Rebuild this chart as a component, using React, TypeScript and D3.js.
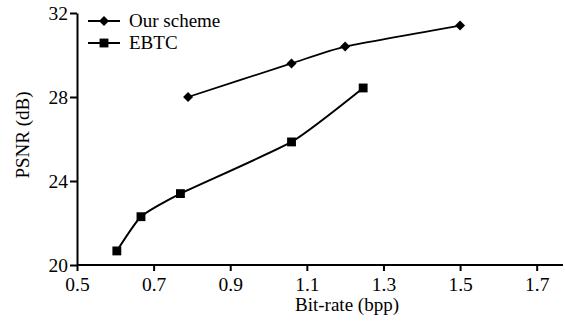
import { useEffect, useRef } from "react";
import * as d3 from "d3";

// values
const oursRate = [0.79, 1.06, 1.2, 1.5];
const oursPsnr = [28.0, 29.6, 30.4, 31.4];
const ebtcRate = [0.604, 0.667, 0.77, 1.06, 1.247];
const ebtcPsnr = [20.67, 22.3, 23.4, 25.86, 28.43];
const xTicks = [0.5, 0.7, 0.9, 1.1, 1.3, 1.5, 1.7];
const yTicks = [20, 24, 28, 32];
const seriesNames = ["Our scheme", "EBTC"];

const W = 565;
const H = 325;
const FONT = "'Liberation Serif', 'Times New Roman', serif";

const App = () => {
  const ref = useRef<SVGSVGElement>(null);

  useEffect(() => {
    if (!ref.current) return;
    const svg = d3.select(ref.current);
    svg.selectAll("*").remove();

    const x = d3.scaleLinear().domain([0.5, 1.8]).range([77, 575]);
    const y = d3.scaleLinear().domain([20, 32]).range([265, 13]);

    // axes
    const xAxis = svg
      .append("g")
      .attr("transform", `translate(0,${y(20)})`)
      .call(
        d3
          .axisBottom(x)
          .tickValues(xTicks)
          .tickSize(6)
          .tickSizeOuter(0)
          .tickFormat(d3.format(".1f"))
      );
    xAxis.select(".domain").attr("d", `M${x(0.5)},0H${W - 2}`);

    const yAxis = svg
      .append("g")
      .attr("transform", `translate(${x(0.5)},0)`)
      .call(d3.axisLeft(y).tickValues(yTicks).tickSize(7).tickSizeOuter(0));

    [xAxis, yAxis].forEach((a) => {
      a.select(".domain").attr("stroke", "#000").attr("stroke-width", 2);
      a.selectAll(".tick line").attr("stroke", "#000").attr("stroke-width", 2);
      a.selectAll("text")
        .attr("fill", "#000")
        .style("font-family", FONT)
        .style("font-size", "19.5px");
    });
    xAxis.selectAll("text").attr("dy", "0.85em");
    yAxis.selectAll("text").attr("x", -9).attr("dy", "0.35em");

    // axis titles
    svg
      .append("text")
      .attr("x", 347)
      .attr("y", 311)
      .attr("text-anchor", "middle")
      .style("font-family", FONT)
      .style("font-size", "19px")
      .text("Bit-rate (bpp)");
    svg
      .append("text")
      .attr("transform", `translate(29,135) rotate(-90)`)
      .attr("text-anchor", "middle")
      .style("font-family", FONT)
      .style("font-size", "19px")
      .text("PSNR (dB)");

    const line = d3
      .line<[number, number]>()
      .x((d) => x(d[0]))
      .y((d) => y(d[1]))
      .curve(d3.curveCardinal.tension(0.5));

    const ours = oursRate.map((r, i) => [r, oursPsnr[i]] as [number, number]);
    const ebtc = ebtcRate.map((r, i) => [r, ebtcPsnr[i]] as [number, number]);

    svg
      .append("path")
      .attr("d", line(ours))
      .attr("fill", "none")
      .attr("stroke", "#000")
      .attr("stroke-width", 1.8);
    svg
      .append("path")
      .attr("d", line(ebtc))
      .attr("fill", "none")
      .attr("stroke", "#000")
      .attr("stroke-width", 2);

    const diamond = d3.symbol(d3.symbolDiamond2, 64);
    const square = d3.symbol(d3.symbolSquare2, 100);

    svg
      .selectAll(".dm")
      .data(ours)
      .enter()
      .append("path")
      .attr("d", diamond() as string)
      .attr("transform", (d) => `translate(${x(d[0])},${y(d[1])})`)
      .attr("fill", "#000");
    svg
      .selectAll(".sq")
      .data(ebtc)
      .enter()
      .append("path")
      .attr("d", square() as string)
      .attr("transform", (d) => `translate(${x(d[0])},${y(d[1])})`)
      .attr("fill", "#000");

    // legend
    const legend = svg.append("g");
    seriesNames.forEach((name, i) => {
      const ly = 21 + i * 22;
      legend
        .append("line")
        .attr("x1", 88)
        .attr("x2", 120)
        .attr("y1", ly)
        .attr("y2", ly)
        .attr("stroke", "#000")
        .attr("stroke-width", 2);
      legend
        .append("path")
        .attr("d", (i === 0 ? diamond() : square()) as string)
        .attr("transform", `translate(104,${ly})`)
        .attr("fill", "#000");
      legend
        .append("text")
        .attr("x", 129)
        .attr("y", ly)
        .attr("dy", "0.33em")
        .style("font-family", FONT)
        .style("font-size", "19px")
        .text(name);
    });
  }, []);

  return (
    <svg
      ref={ref}
      width={W}
      height={H}
      style={{ position: "absolute", left: 0, top: 0, background: "#fff" }}
    />
  );
};

export default App;
